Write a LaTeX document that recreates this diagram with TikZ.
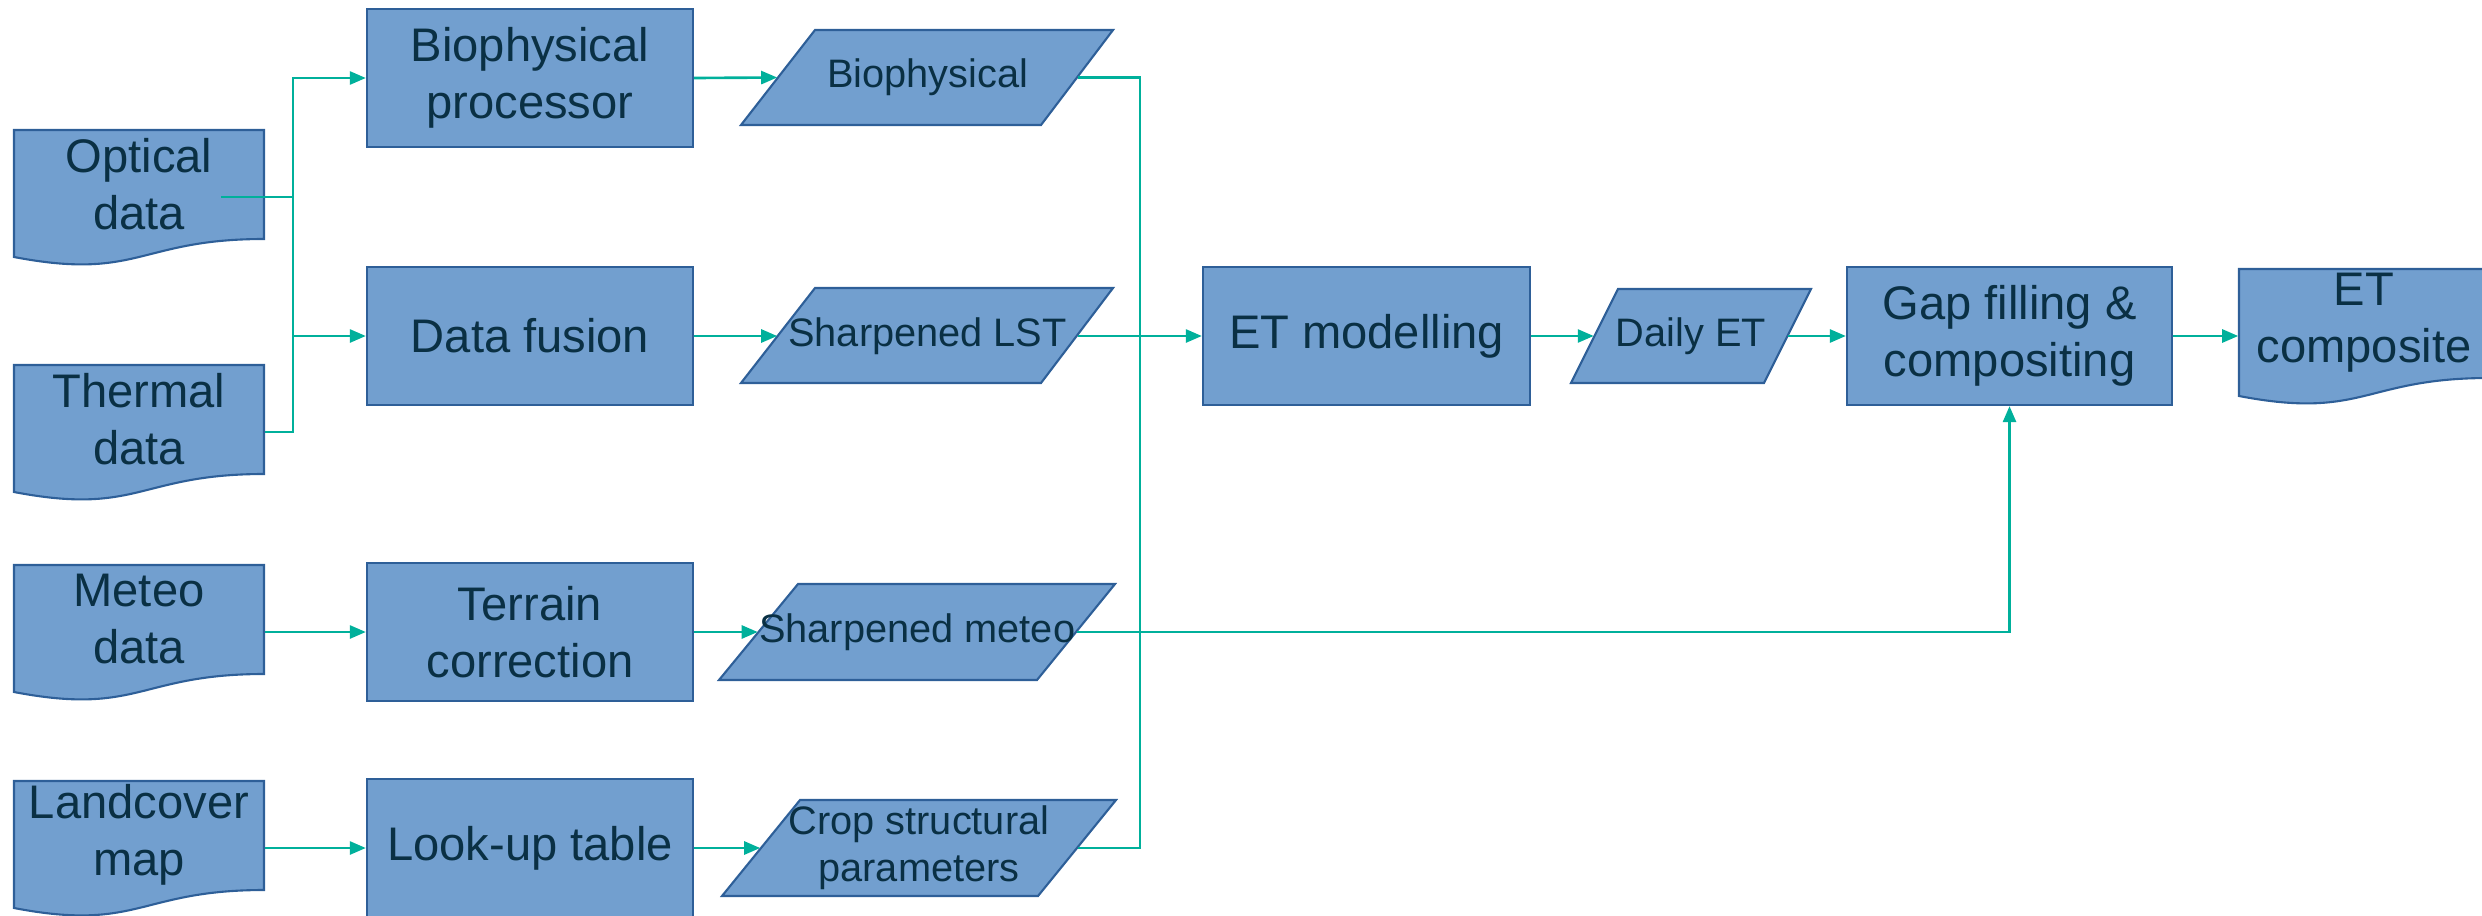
\documentclass[tikz,border=0pt]{standalone}
\usepackage{fontspec}
\setmainfont{Liberation Sans}
\usetikzlibrary{arrows.meta,calc}
\definecolor{boxfill}{RGB}{114,159,207}
\definecolor{boxline}{RGB}{46,95,152}
\definecolor{conncol}{RGB}{0,176,155}
\definecolor{txtcol}{RGB}{10,48,68}
\begin{document}
\begin{tikzpicture}[x=0.01cm,y=-0.01cm,
  box/.style={fill=boxfill,draw=boxline,line width=0.6pt},
  bigtxt/.style={text=txtcol,font=\fontsize{13.4}{16.2}\selectfont,align=center,inner sep=0pt},
  smalltxt/.style={text=txtcol,font=\fontsize{11.3}{13.3}\selectfont,align=center,inner sep=0pt},
  proc/.style={box,bigtxt,minimum width=3.26cm,minimum height=1.38cm},
  doctxt/.style={bigtxt,minimum width=2.5cm},
  conn/.style={draw=conncol,line width=0.75pt},
  arr/.style={conn,-{Triangle[length=0.16cm,width=0.13cm]}},
  docpic/.pic={\draw[box] (0,0)--(250,0)--(250,109) .. controls (125,109) and (125,151) .. (0,127) -- cycle;}
]
\useasboundingbox (0,0) rectangle (2482,915);

% document shapes
\pic at (14,130) {docpic};
\pic at (14,365) {docpic};
\pic at (14,565) {docpic};
\pic at (14,781) {docpic};
\pic at (2239,269) {docpic};
\node[doctxt] (opt) at (139,184) {Optical\\data};
\node[doctxt] (th)  at (139,419) {Thermal\\data};
\node[doctxt] (met) at (139,619) {Meteo\\data};
\node[doctxt] (lc)  at (139,835) {Landcover\\map};
\node[doctxt] (etc) at (2364,323) {ET\\composite};

% process boxes
\node[proc] (bp)  at (530,78)  {Biophysical\\processor};
\node[proc] (df)  at (530,336) {Data fusion};
\node[proc] (tc)  at (530,632) {Terrain\\correction};
\node[proc] (lut) at (530,848) {Look-up table};
\node[proc,minimum width=3.27cm] (etm) at (1366.5,336) {ET modelling};
\node[proc,minimum width=3.25cm] (gap) at (2009.5,336) {Gap filling \&\\compositing};

% data parallelograms
\draw[box] (815,30)--(1113,30)--(1041,125)--(741,125)--cycle;
\draw[box] (815,288)--(1113,288)--(1041,383)--(741,383)--cycle;
\draw[box] (798,584)--(1115,584)--(1037,680)--(719,680)--cycle;
\draw[box] (800,800)--(1116,800)--(1038,896)--(722,896)--cycle;
\draw[box] (1618,289)--(1811,289)--(1764,383)--(1571,383)--cycle;
\node[smalltxt,minimum width=2.99cm] (bio) at (927.5,77.5) {Biophysical};
\node[smalltxt,minimum width=2.99cm] (lst) at (927.5,336) {Sharpened LST};
\node[smalltxt,minimum width=3.175cm] (smet) at (917.25,632) {Sharpened meteo};
\node[smalltxt,minimum width=3.16cm] (crop) at (919,848) {Crop structural\\parameters};
\node[smalltxt,minimum width=1.93cm] (det) at (1691,336) {Daily ET};

% junctions
\coordinate (busL) at (293,197);
\coordinate (busR) at (1140,336);

% connectors
\draw[conn] ($(opt.east)+(-44,13)$) -- (busL);
\draw[conn] ($(th.east)+(0,13)$) -| (busL);
\draw[arr] (busL) |- (bp.west);
\draw[arr] (busL) |- (df.west);
\draw[arr] ($(met.east)+(0,13)$) -- (tc.west);
\draw[arr] ($(lc.east)+(0,13)$) -- (lut.west);
\draw[arr] (bp.east) -- (bio.west);
\draw[arr] (df.east) -- (lst.west);
\draw[arr] (tc.east) -- (smet.west);
\draw[arr] (lut.east) -- (crop.west);
\draw[conn] (bio.east) -| (busR);
\draw[conn] (crop.east) -| (busR);
\draw[arr] (lst.east) -- (etm.west);
\draw[arr] (smet.east) -| (gap.south);
\draw[arr] (etm.east) -- (det.west);
\draw[arr] (det.east) -- (gap.west);
\draw[arr] (gap.east) -- ($(etc.west)+(0,13)$);
\end{tikzpicture}
\end{document}
